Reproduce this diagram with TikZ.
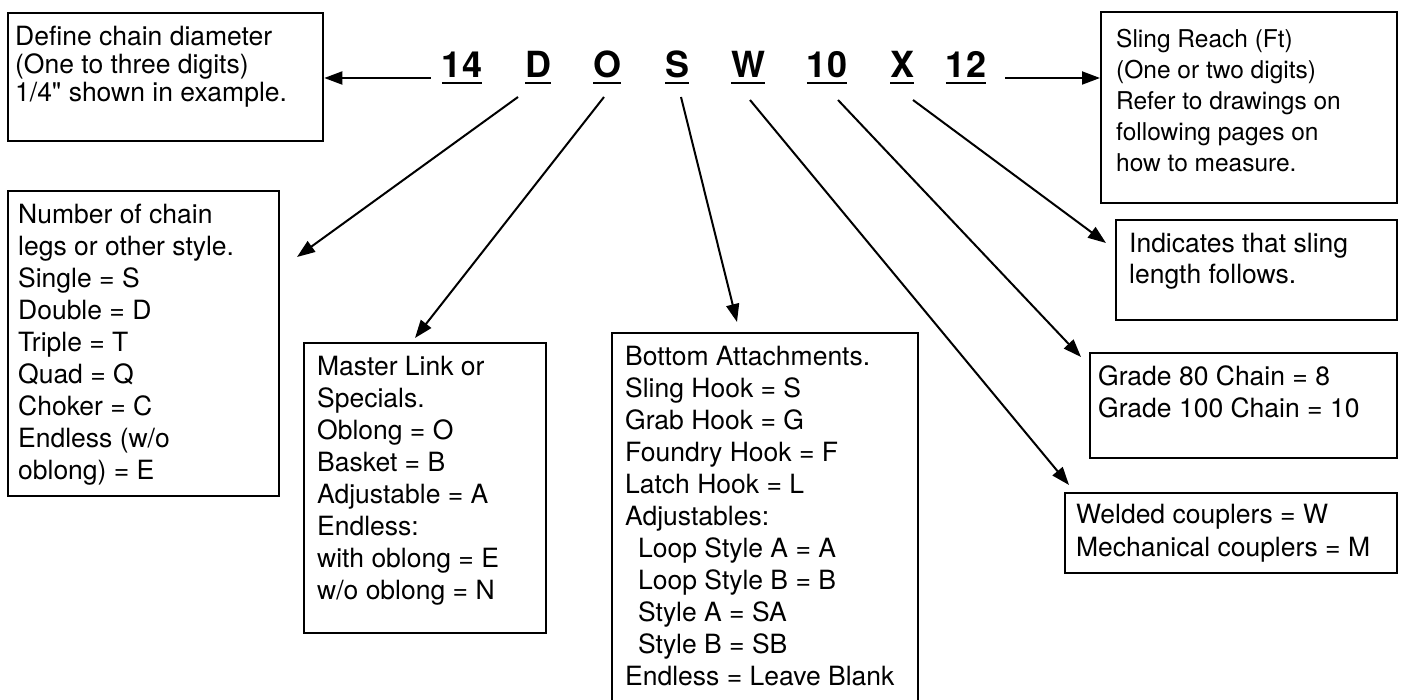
\documentclass[tikz,border=0pt]{standalone}
\usepackage{fontspec}
\setmainfont{TeX Gyre Heros}[Ligatures=TeXOff]
\usetikzlibrary{
	arrows.meta,
	positioning
}
\newsavebox{\codebox}
\newcommand{\codeline}[1]{\sbox{\codebox}{#1}\rlap{\usebox{\codebox}}\rule[-6.2pt]{\wd\codebox}{2.5pt}}
\newcommand{\boxlines}[5]{\parbox[t][#2pt][t]{#1pt}{\raggedright\fontsize{#3}{#4}\selectfont #5}}
\tikzset{
	>={Triangle[length=18pt,width=13pt]},
	infobox/.style={draw, line width=2.3pt, anchor=north west, inner xsep=10pt, inner ysep=13pt},
	codeletter/.style={anchor=base, inner sep=0pt, font=\fontsize{36}{40}\selectfont\bfseries},
	pointer/.style={->, line width=2pt}
}

\begin{document}
\begin{tikzpicture}[x=1pt, y=-1pt]
	\useasboundingbox (0,0) rectangle (1401,700);
	\clip (0,0) rectangle (1401,700);
	% part number
	\foreach \name/\code/\x in {c14/14/462, cd/D/538, co/O/607, cs/S/677, cw/W/748, c10/10/827, cx/X/902, c12/12/966} {
		\node[codeletter] (\name) at (\x,78) {\codeline{\code}};
	}
	% boxes
	\node[infobox, inner xsep=7pt] (diam) at (7,12) {\boxlines{301}{102}{26.5}{28}{Define chain diameter\\(One to three digits)\\1/4" shown in example.}};
	\node[infobox] (legs) at (7,190) {\boxlines{251}{279}{26.5}{32}{Number of chain\\legs or other style.\\Single = S\\Double = D\\Triple = T\\Quad = Q\\Choker = C\\Endless (w/o\\oblong) = E}};
	\node[infobox, inner xsep=13pt] (master) at (303,342) {\boxlines{216}{264}{26.5}{32}{Master Link or\\Specials.\\Oblong = O\\Basket = B\\Adjustable = A\\Endless:\\with oblong = E\\w/o oblong = N}};
	\node[infobox, inner xsep=13pt] (bottom) at (611,332) {\boxlines{280}{362}{26.5}{32}{Bottom Attachments.\\Sling Hook = S\\Grab Hook = G\\Foundry Hook = F\\Latch Hook = L\\Adjustables:\\\hspace*{13pt}Loop Style A = A\\\hspace*{13pt}Loop Style B = B\\\hspace*{13pt}Style A = SA\\\hspace*{13pt}Style B = SB\\Endless = Leave Blank}};
	\node[infobox, inner xsep=15pt, inner ysep=17.5pt] (reach) at (1100,11) {\boxlines{266}{156}{24.5}{31}{Sling Reach (Ft)\\(One or two digits)\\Refer to drawings on\\following pages on\\how to measure.}};
	\node[infobox, inner xsep=13pt] (follows) at (1115,219) {\boxlines{255}{74}{26.5}{31}{Indicates that sling\\length follows.}};
	\node[infobox, inner xsep=8pt] (grade) at (1089,352) {\boxlines{291}{79}{26.5}{32}{Grade 80 Chain = 8\\Grade 100 Chain = 10}};
	\node[infobox, inner xsep=11pt, inner ysep=11pt] (coupler) at (1064,492) {\boxlines{310}{58}{26.5}{33}{Welded couplers = W\\Mechanical couplers = M}};
	% arrow ends
	\coordinate (legsin) at (297,257);
	\coordinate (masterin) at (415,338);
	\coordinate (bottomin) at (737,322);
	\coordinate (couplerin) at (1069,485);
	\coordinate (gradein) at (1081,357);
	\coordinate (followsin) at (1106,243);
	% arrows
	\draw[pointer] ([xshift=-11pt]c14.base west) -- (c14.base west -| diam.east);
	\draw[pointer] ([xshift=19pt]c12.base east) -- (c12.base east -| reach.west);
	\draw[pointer] ([xshift=-20pt,yshift=-19pt]cd.base) -- (legsin);
	\draw[pointer] ([xshift=-3pt,yshift=-19pt]co.base) -- (masterin);
	\draw[pointer] ([xshift=4pt,yshift=-19pt]cs.base) -- (bottomin);
	\draw[pointer] ([xshift=2pt,yshift=-22pt]cw.base) -- (couplerin);
	\draw[pointer] ([xshift=11pt,yshift=-22pt]c10.base) -- (gradein);
	\draw[pointer] ([xshift=11pt,yshift=-22pt]cx.base) -- (followsin);
\end{tikzpicture}
\end{document}
